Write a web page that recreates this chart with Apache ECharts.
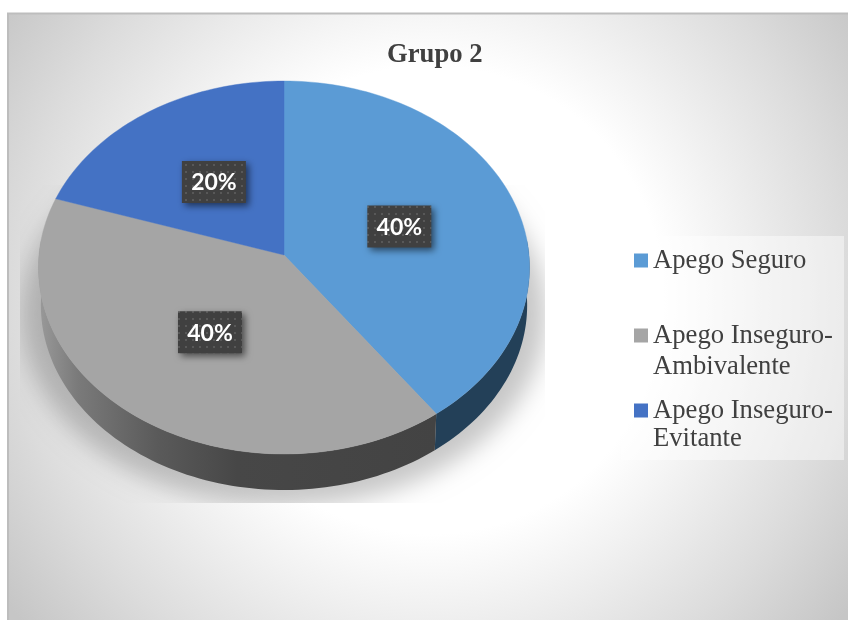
<!DOCTYPE html>
<html>
<head>
<meta charset="utf-8">
<style>html,body{margin:0;padding:0;background:#fff}#chart{width:848px;height:620px}</style>
<script src="https://cdn.jsdelivr.net/npm/echarts@6/dist/echarts.min.js"></script>
</head>
<body>
<div id="chart"></div>
<script>
// Attachment style shares for group 2
const chartTitle = 'Grupo 2';
const categories = ['Apego Seguro', 'Apego Inseguro-\nAmbivalente', 'Apego Inseguro-\nEvitante'];
const shares = [40, 40, 20];
const faceColors = ['#5B9BD5', '#A5A5A5', '#4472C4'];

// Tilted disc: perspective projection of the unit circle onto the page
const topFace = { cx: 284, cy: 255, a: 245, b: 185.66, k: 0.067 };
const baseFace = { cx: 284, cy: 293, a: 242.6, b: 183.8, k: 0.067 };
const total = shares.reduce((s, v) => s + v, 0);

function project(deg, r, f) {
  const t = deg * Math.PI / 180;
  const u = r * Math.sin(t), v = r * Math.cos(t);
  const w = 1 + f.k * v;
  return [f.cx + f.a * u / w, f.cy - f.b * v / w];
}
function arc(from, to, f) {
  const pts = [];
  const n = Math.max(2, Math.ceil(Math.abs(to - from) / 1.5));
  for (let i = 0; i <= n; i++) pts.push(project(from + (to - from) * i / n, 1, f));
  return pts;
}

// Dotted texture for the value tags
const dots = document.createElement('canvas');
dots.width = 7; dots.height = 7;
(function () {
  const c = dots.getContext('2d');
  c.fillStyle = '#404040'; c.fillRect(0, 0, 7, 7);
  c.fillStyle = '#585858'; c.fillRect(3, 3, 2, 2);
})();

const sideFills = [
  '#234058',
  { type: 'linear', global: true, x: 38, y: 0, x2: 437, y2: 0, colorStops: [
    { offset: 0, color: '#9a9a9a' }, { offset: 0.1, color: '#7a7a7a' },
    { offset: 0.3, color: '#5a5a5a' }, { offset: 0.5, color: '#474747' }, { offset: 1, color: '#434343' } ] },
  '#2b4a80'
];

function sliceRenderer(index) {
  return function (params, api) {
    const value = api.value(0);
    const before = shares.slice(0, index).reduce((s, v) => s + v, 0);
    const start = before / total * 360, end = start + value / total * 360;
    const children = [];
    // Visible wall: only the front part of the rim
    const s = Math.max(start, 85), e = Math.min(end, 275);
    if (e > s) {
      children.push({
        type: 'polygon',
        shape: { points: arc(s, e, topFace).concat(arc(e, s, baseFace)) },
        style: { fill: sideFills[index] }
      });
    }
    children.push({
      type: 'polygon',
      shape: { points: [project(0, 0, topFace)].concat(arc(start, end, topFace)) },
      style: { fill: faceColors[index], stroke: faceColors[index], lineWidth: 0.4 }
    });
    const c = project((start + end) / 2, 0.5, topFace);
    children.push({
      type: 'rect',
      z2: 10,
      shape: { x: c[0] - 32, y: c[1] - 21, width: 64, height: 42 },
      style: { fill: { image: dots, repeat: 'repeat' }, shadowBlur: 7, shadowOffsetX: 3, shadowOffsetY: 3, shadowColor: 'rgba(0,0,0,0.55)' }
    });
    children.push({
      type: 'text',
      z2: 11,
      style: { x: c[0], y: c[1] + 1, text: value + '%', fill: '#fff', font: '700 23px Lato', align: 'center', verticalAlign: 'middle' }
    });
    return { type: 'group', children };
  };
}

// Soft cast shadow under the disc, cut off at a rectangle
function shadowRenderer() {
  const caster = { cx: 284 - 2000, cy: 291, a: 260, b: 190, k: 0.12 };
  return {
    type: 'polygon',
    shape: { points: arc(0, 360, caster) },
    style: { fill: '#000', shadowBlur: 24, shadowOffsetX: 2000, shadowColor: 'rgba(0,0,0,0.22)' },
    clipPath: { type: 'rect', shape: { x: 20, y: 185, width: 525, height: 318 } },
    silent: true
  };
}

const series = [{
  type: 'custom', coordinateSystem: 'none', name: 'sombra', z: 2, silent: true,
  data: [[0]], renderItem: shadowRenderer
}].concat(categories.map((name, i) => ({
  type: 'custom', coordinateSystem: 'none', name, z: 3, silent: true,
  itemStyle: { color: faceColors[i] },
  data: [[shares[i]]], renderItem: sliceRenderer(i)
})));

const legendText = (lh) => ({
  color: '#404040', fontFamily: 'Liberation Serif', fontSize: 26.67, lineHeight: lh
});
// A blank first line keeps each marker level with the first line of its name
const firstLineOnMarker = (name) => '\n' + name;
const legendBase = { left: 634, padding: 0, icon: 'rect', itemWidth: 14, itemHeight: 14, selectedMode: false };

const option = {
  animation: false,
  title: {
    text: chartTitle, left: 387, top: 42, padding: 0,
    textStyle: { fontFamily: 'Liberation Serif', fontWeight: 'bold', fontSize: 26.67, color: '#404040' }
  },
  legend: [
    Object.assign({}, legendBase, { data: [categories[0]], top: 245, textStyle: legendText(31) }),
    Object.assign({}, legendBase, { data: [categories[1]], top: 289, formatter: firstLineOnMarker, textStyle: legendText(31) }),
    Object.assign({}, legendBase, { data: [categories[2]], top: 368.5, formatter: firstLineOnMarker, textStyle: legendText(28) })
  ],
  graphic: [
    {
      type: 'rect', z: -2, silent: true,
      shape: { x: 8, y: 13.5, width: 842, height: 610 },
      style: {
        stroke: '#bdbdbd', lineWidth: 2,
        fill: { type: 'radial', global: true, x: 430, y: 300, r: 520, colorStops: [
          { offset: 0, color: '#ffffff' }, { offset: 0.45, color: '#ffffff' }, { offset: 0.6, color: '#f0f0f0' },
          { offset: 0.8, color: '#dcdcdc' }, { offset: 1, color: '#c6c6c6' } ] }
      }
    },
    {
      type: 'rect', z: -1, silent: true,
      shape: { x: 621, y: 236, width: 223, height: 224 },
      style: { fill: 'rgba(255,255,255,0.45)' }
    }
  ],
  series
};

echarts.init(document.getElementById('chart'), null, { renderer: 'canvas' }).setOption(option);
</script>
</body>
</html>
